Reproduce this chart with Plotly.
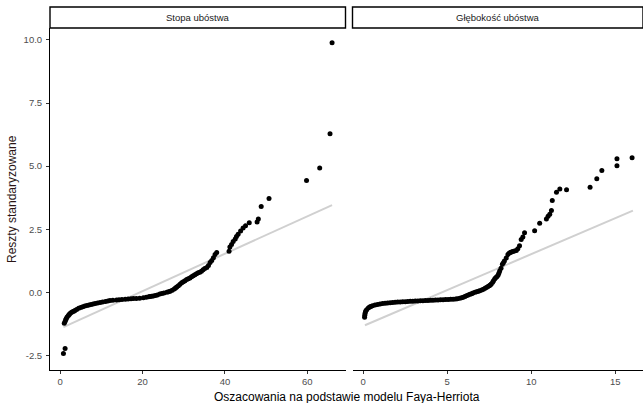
import plotly.graph_objects as go

# ---------------- data ----------------
panel_titles = ["Stopa ubóstwa", "Głębokość ubóstwa"]

# Panel 1: Stopa ubóstwa
p1_x = [0.8, 1.2,
        1.0, 1.2, 1.35, 1.5, 1.7, 2.0, 2.2, 2.4, 2.7, 3.0, 3.3, 3.6, 4.0, 4.5, 5.0, 5.5,
        6.0, 6.5, 7.0, 7.5, 8.0, 8.5, 9.1, 9.7, 10.3, 11.0, 11.6, 12.1, 12.8, 13.7,
        14.3, 15.0, 15.8, 16.5, 17.2, 17.8, 18.5, 19.3, 20.2, 20.9, 21.5, 21.8, 22.2,
        22.6, 23.1, 23.6, 24.2, 24.7, 25.2, 25.9, 26.3, 26.7, 27.2, 27.7, 28.0, 28.3,
        28.7, 29.1, 29.5, 29.9, 30.3, 30.7, 31.1, 31.5, 31.9, 32.3, 32.7, 33.1, 33.5,
        33.9, 34.3, 34.7, 35.1, 35.6, 36.0, 36.4, 36.8, 37.2, 37.6, 38.0,
        41.0, 41.2, 41.6, 42.0, 42.5, 42.8, 43.2, 43.8, 44.4, 45.0, 45.9,
        47.8, 48.1, 48.8, 50.7, 59.8, 63.0, 65.5, 66.0]
p1_y = [-2.42, -2.22,
        -1.22, -1.15, -1.08, -1.03, -0.97, -0.91, -0.87, -0.83, -0.79, -0.76, -0.74,
        -0.71, -0.67, -0.63, -0.60, -0.57, -0.54, -0.52, -0.50, -0.48, -0.46, -0.44,
        -0.42, -0.40, -0.38, -0.36, -0.34, -0.32, -0.31, -0.30, -0.29, -0.28, -0.27,
        -0.26, -0.25, -0.24, -0.24, -0.23, -0.21, -0.19, -0.17, -0.16, -0.15, -0.14,
        -0.12, -0.10, -0.06, -0.04, -0.02, 0.01, 0.03, 0.05, 0.09, 0.14, 0.18, 0.22,
        0.27, 0.32, 0.38, 0.42, 0.46, 0.51, 0.54, 0.57, 0.62, 0.66, 0.70, 0.74, 0.78,
        0.80, 0.84, 0.90, 0.95, 0.99, 1.07, 1.19, 1.27, 1.37, 1.50, 1.58,
        1.63, 1.80, 1.90, 2.02, 2.12, 2.22, 2.30, 2.43, 2.55, 2.64, 2.76,
        2.79, 2.91, 3.40, 3.72, 4.43, 4.93, 6.28, 9.89]

# Panel 2: Głębokość ubóstwa
p2_x = [0.08, 0.09, 0.11, 0.14, 0.2, 0.3, 0.38, 0.45, 0.55, 0.7, 0.85, 1.0, 1.15,
        1.3, 1.45, 1.6, 1.75, 1.9, 2.05, 2.2, 2.35, 2.5, 2.65, 2.8, 2.95, 3.1, 3.25,
        3.4, 3.55, 3.7, 3.85, 4.0, 4.15, 4.3, 4.45, 4.6, 4.75, 4.9, 5.05, 5.2, 5.35,
        5.5, 5.6, 5.74, 5.85, 5.95, 6.05, 6.14, 6.25, 6.35, 6.45, 6.53, 6.65, 6.75,
        6.85, 6.93, 7.05, 7.15, 7.25, 7.33, 7.42, 7.5, 7.56, 7.62, 7.7, 7.75, 7.82,
        7.88, 7.95, 8.02, 8.07, 8.12, 8.2, 8.28, 8.34, 8.4, 8.51, 8.61, 8.68, 8.75,
        8.82, 8.9, 9.0, 9.11, 9.2, 9.3, 9.4, 9.5, 9.6,
        10.2, 10.5, 10.9, 11.0, 11.1, 11.2, 11.25, 11.5, 11.7, 12.1, 13.5, 13.9,
        14.2, 15.1, 15.1, 16.0]
p2_y = [-0.98, -0.90, -0.82, -0.74, -0.68, -0.62, -0.58, -0.56, -0.53, -0.50, -0.48,
        -0.46, -0.44, -0.43, -0.42, -0.41, -0.40, -0.39, -0.38, -0.38, -0.37, -0.37,
        -0.36, -0.35, -0.35, -0.34, -0.34, -0.33, -0.33, -0.32, -0.32, -0.31, -0.31,
        -0.30, -0.30, -0.29, -0.29, -0.28, -0.28, -0.27, -0.27, -0.26, -0.25, -0.23,
        -0.21, -0.19, -0.16, -0.13, -0.10, -0.07, -0.05, -0.02, 0.01, 0.03, 0.05,
        0.07, 0.10, 0.13, 0.17, 0.20, 0.24, 0.27, 0.30, 0.33, 0.40, 0.46, 0.53, 0.58,
        0.62, 0.68, 0.76, 0.85, 0.96, 1.12, 1.18, 1.25, 1.36, 1.50, 1.55, 1.58, 1.60,
        1.62, 1.64, 1.66, 1.73, 1.85, 2.10, 2.20, 2.36,
        2.44, 2.74, 2.91, 3.02, 3.10, 3.24, 3.64, 3.97, 4.10, 4.07, 4.17, 4.50,
        4.83, 5.02, 5.29, 5.33]

# fitted reference lines (endpoints)
l1_x = [0.8, 66.0]
l1_y = [-1.37, 3.46]
l2_x = [0.1, 16.05]
l2_y = [-1.30, 3.24]

y_ticks = [-2.5, 0.0, 2.5, 5.0, 7.5, 10.0]
y_ticklabels = ["-2.5", "0.0", "2.5", "5.0", "7.5", "10.0"]
x1_ticks = [0, 20, 40, 60]
x2_ticks = [0, 5, 10, 15]

y_title = "Reszty standaryzowane"
x_title = "Oszacowania na podstawie modelu Faya-Herriota"

# ---------------- figure ----------------
W, H = 643, 403
ML, MR, MT, MB = 50, 0, 28, 33
pw = W - ML - MR
ph = H - MT - MB

def px_x(p):
    return (p - ML) / pw

d1 = [0.0, px_x(345.5)]
d2 = [px_x(352.5), 1.0]

FONT = "Arial, Liberation Sans, sans-serif"

fig = go.Figure()
line_style = dict(color="#d0d0d0", width=2)
mk = dict(color="black", size=5)

fig.add_trace(go.Scatter(x=l1_x, y=l1_y, mode="lines", line=line_style,
                         xaxis="x", yaxis="y", hoverinfo="skip"))
fig.add_trace(go.Scatter(x=p1_x, y=p1_y, mode="markers", marker=mk,
                         xaxis="x", yaxis="y"))
fig.add_trace(go.Scatter(x=l2_x, y=l2_y, mode="lines", line=line_style,
                         xaxis="x2", yaxis="y", hoverinfo="skip"))
fig.add_trace(go.Scatter(x=p2_x, y=p2_y, mode="markers", marker=mk,
                         xaxis="x2", yaxis="y"))

axis_common = dict(showgrid=False, zeroline=False, showline=True,
                   linecolor="black", linewidth=1, ticks="outside",
                   ticklen=3, tickwidth=1, tickcolor="#333333",
                   tickfont=dict(family=FONT, size=9.5, color="#4d4d4d"))

fig.update_layout(
    width=W, height=H,
    margin=dict(l=ML, r=MR, t=MT, b=MB),
    paper_bgcolor="white", plot_bgcolor="white",
    showlegend=False,
    xaxis=dict(domain=d1, range=[-2.46, 69.26], tickvals=x1_ticks,
               anchor="y", **axis_common),
    xaxis2=dict(domain=d2, range=[-0.64, 16.65], tickvals=x2_ticks,
                anchor="y", **axis_common),
    yaxis=dict(domain=[0, 1], range=[-3.07, 10.47], tickvals=y_ticks,
               ticktext=y_ticklabels, anchor="x", ticklabelstandoff=2,
               **axis_common),
)

# facet strips
strip_top = 1 + 21 / ph
shapes = []
annotations = []
for dom, title in zip([d1, d2], panel_titles):
    shapes.append(dict(type="rect", xref="paper", yref="paper",
                       x0=dom[0], x1=dom[1], y0=1.0, y1=strip_top,
                       line=dict(color="black", width=1.4), fillcolor="white",
                       layer="above"))
    annotations.append(dict(text=title, xref="paper", yref="paper",
                            x=(dom[0] + dom[1]) / 2, y=(1.0 + strip_top) / 2,
                            xanchor="center", yanchor="middle", showarrow=False,
                            font=dict(family=FONT, size=9.5, color="#1a1a1a")))

annotations.append(dict(text=x_title, xref="paper", yref="paper",
                        x=px_x((ML + W) / 2), y=-(397 - (H - MB)) / ph,
                        xanchor="center", yanchor="middle", showarrow=False,
                        font=dict(family=FONT, size=12, color="black")))
annotations.append(dict(text=y_title, xref="paper", yref="paper",
                        x=px_x(12), y=0.5, textangle=-90,
                        xanchor="center", yanchor="middle", showarrow=False,
                        font=dict(family=FONT, size=12, color="#2a1515")))

fig.update_layout(shapes=shapes, annotations=annotations)

fig.write_html("out.html")
